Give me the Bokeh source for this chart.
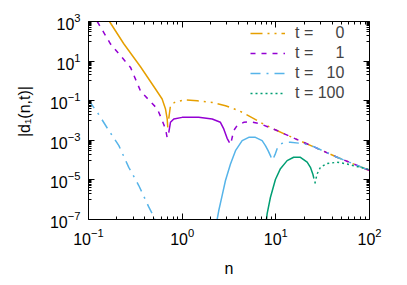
from bokeh.plotting import figure
from bokeh.models import FixedTicker, LogAxis, Legend, LegendItem, CustomJSTickFormatter
from bokeh.embed import file_html
from bokeh.resources import INLINE

# ---- data (|d1(n,t)| on log-log axes) ----
# t = 0 : solid branch, then dash-dot-dot branch
n0_solid = [0.1675, 0.238, 0.359, 0.519, 0.611, 0.664, 0.692, 0.702]
d0_solid = [1000, 75, 5.2, 0.39, 0.122, 0.038, 0.012, 0.0045]
n0_dash = [0.719, 0.75, 0.848, 1.084, 1.445, 2.09, 2.90, 4.02, 4.74, 7.4, 10, 14.9, 27.6, 45.1, 100]
d0_dash = [0.0124, 0.056, 0.0893, 0.1087, 0.100, 0.0822, 0.056, 0.0314, 0.0214, 0.0066, 0.0033,
           1.41e-3, 3.94e-4, 1.39e-4, 3.0e-5]

# t = 1 : dashed, solid, dashed
n1_dash_a = [0.124, 0.172, 0.281, 0.36, 0.541, 0.601, 0.664, 0.692]
d1_dash_a = [1000, 72.6, 4.8, 0.3, 0.0396, 0.0124, 3.75e-3, 1.36e-3]
n1_solid = [0.719, 0.750, 0.814, 1.0, 1.50, 2.09, 2.56, 2.78, 3.02, 3.20]
d1_solid = [2.44e-3, 8.1e-3, 0.012, 0.0144, 0.0144, 0.012, 8.1e-3, 3.75e-3, 1.26e-3, 7.6e-4]
n1_dash_b = [3.36, 3.55, 3.86, 4.54, 5.36, 6.85, 10, 14.9, 27.6, 45.1, 100]
d1_dash_b = [9.6e-4, 3.1e-3, 5.5e-3, 8.1e-3, 8.7e-3, 6.7e-3, 3.3e-3, 1.41e-3, 3.94e-4, 1.39e-4, 3.0e-5]

# t = 10 : dash-dot, solid, dash-dot
n10_dash_a = [0.1, 0.129, 0.165, 0.211, 0.269, 0.344, 0.441, 0.498, 0.55]
d10_dash_a = [0.109, 0.0197, 3.08e-3, 5.4e-4, 4.3e-5, 5.2e-6, 4.2e-7, 1.4e-7, 3e-8]
n10_solid = [2.30, 2.46, 2.67, 2.90, 3.28, 3.71, 4.37, 5.14, 6.05, 7.14, 7.74, 8.27, 8.75, 8.91]
d10_solid = [5e-8, 2.84e-7, 1.62e-6, 9.3e-6, 6.4e-5, 3.0e-4, 9.6e-4, 1.41e-3, 1.41e-3, 9.6e-4,
             5.4e-4, 3.0e-4, 1.69e-4, 1.34e-4]
n10_dash_b = [9.5, 9.9, 10.3, 11.2, 12.7, 14.3, 17.5, 20.7, 25.4, 45.1, 100]
d10_dash_b = [1.34e-4, 2.13e-4, 3.67e-4, 6.6e-4, 7.9e-4, 7.9e-4, 7.2e-4, 6.4e-4, 4.8e-4, 1.39e-4, 3.0e-5]

# t = 100 : solid, dotted
n100_solid = [7.83, 8.07, 8.75, 9.9, 11.2, 13.2, 15.5, 18.3, 21.6, 23.4, 24.8, 25.5]
d100_solid = [5e-8, 1.94e-7, 1.29e-6, 1.05e-5, 3.7e-5, 9.4e-5, 1.39e-4, 1.39e-4, 7.9e-5, 4.3e-5,
              2.0e-5, 1.17e-5]
n100_dot = [26.1, 27.6, 29.9, 35.3, 45.1, 57.7, 73.8, 94.2, 100]
d100_dot = [6.6e-6, 2.0e-5, 4.3e-5, 6.7e-5, 7.8e-5, 6.4e-5, 4.7e-5, 3.6e-5, 3.2e-5]

labels = ["t = \u2007\u20070", "t = \u2007\u20071", "t = \u200710", "t = 100"]
colors = ["#E69F00", "#9400D3", "#56B4E9", "#009E73"]

x_major = [0.1, 1, 10, 100]
x_minor = [j * d for d in [0.1, 1, 10] for j in range(2, 10)]
y_major = [1e-7, 1e-5, 1e-3, 1e-1, 1e1, 1e3]
y_minor = [j * 10.0 ** (e - 1) for e in [-5, -3, -1, 1, 3] for j in range(1, 10)]

FONT = "Liberation Sans"

p = figure(x_axis_type="log", y_axis_type="log", x_range=(0.1, 100), y_range=(1e-7, 1e3),
           frame_width=281, frame_height=198,
           min_border_left=88, min_border_top=21, min_border_right=20, min_border_bottom=48,
           output_backend="svg", toolbar_location=None)
p.xgrid.visible = False
p.ygrid.visible = False
p.outline_line_color = None

def style_axis(ax, ticks, minor):
    ax.ticker = FixedTicker(ticks=ticks, minor_ticks=minor)
    ax.axis_line_color = "black"
    ax.axis_line_width = 1
    ax.major_tick_in = 6
    ax.major_tick_out = 0
    ax.minor_tick_in = 3
    ax.minor_tick_out = 0
    ax.major_tick_line_color = "black"
    ax.minor_tick_line_color = "black"
    ax.major_label_text_font = FONT
    ax.major_label_text_font_size = "16px"
    ax.major_label_text_color = "black"
    ax.axis_label_text_font = FONT
    ax.axis_label_text_font_size = "16px"
    ax.axis_label_text_font_style = "normal"
    ax.axis_label_text_color = "black"

style_axis(p.xaxis[0], x_major, x_minor)
style_axis(p.yaxis[0], y_major, y_minor)
p.xaxis[0].axis_label = "n"
p.xaxis[0].major_label_standoff = 8
p.xaxis[0].axis_label_standoff = 12
p.yaxis[0].axis_label = "\u2007\u2007|d\u2081(n,t)|"
p.yaxis[0].major_label_standoff = 8
p.yaxis[0].axis_label_standoff = 14

blank = CustomJSTickFormatter(code="return ''")
top = LogAxis()
style_axis(top, x_major, x_minor)
top.formatter = blank
top.major_label_standoff = 0
right = LogAxis()
style_axis(right, y_major, y_minor)
right.formatter = blank
right.major_label_standoff = 0
p.add_layout(top, "above")
p.add_layout(right, "right")

LW = 1.5
dashes = ["12 5 2 5 2 5", "5 6", "10 6 2 6", "2 3"]

# solid branches (no legend entries)
p.line(n0_solid, d0_solid, line_color=colors[0], line_width=LW)
p.line(n1_solid, d1_solid, line_color=colors[1], line_width=LW)
p.line(n10_solid, d10_solid, line_color=colors[2], line_width=LW)
p.line(n100_solid, d100_solid, line_color=colors[3], line_width=LW)

r0 = p.line(n0_dash, d0_dash, line_color=colors[0], line_width=LW, line_dash=dashes[0])
r1a = p.line(n1_dash_a, d1_dash_a, line_color=colors[1], line_width=LW, line_dash=dashes[1])
r1b = p.line(n1_dash_b, d1_dash_b, line_color=colors[1], line_width=LW, line_dash=dashes[1])
r10a = p.line(n10_dash_a, d10_dash_a, line_color=colors[2], line_width=LW, line_dash=dashes[2])
r10b = p.line(n10_dash_b, d10_dash_b, line_color=colors[2], line_width=LW, line_dash=dashes[2])
r100 = p.line(n100_dot, d100_dot, line_color=colors[3], line_width=LW, line_dash=dashes[3])

legend = Legend(items=[LegendItem(label=labels[0], renderers=[r0]),
                       LegendItem(label=labels[1], renderers=[r1a]),
                       LegendItem(label=labels[2], renderers=[r10a]),
                       LegendItem(label=labels[3], renderers=[r100])],
                location=(162, 117), padding=0, margin=0, spacing=2,
                glyph_width=35, glyph_height=18, label_height=18, label_standoff=10,
                label_text_font=FONT, label_text_font_size="16px",
                border_line_alpha=0, background_fill_alpha=0)
p.add_layout(legend, "center")

open("out.html", "w").write(file_html(p, INLINE))
